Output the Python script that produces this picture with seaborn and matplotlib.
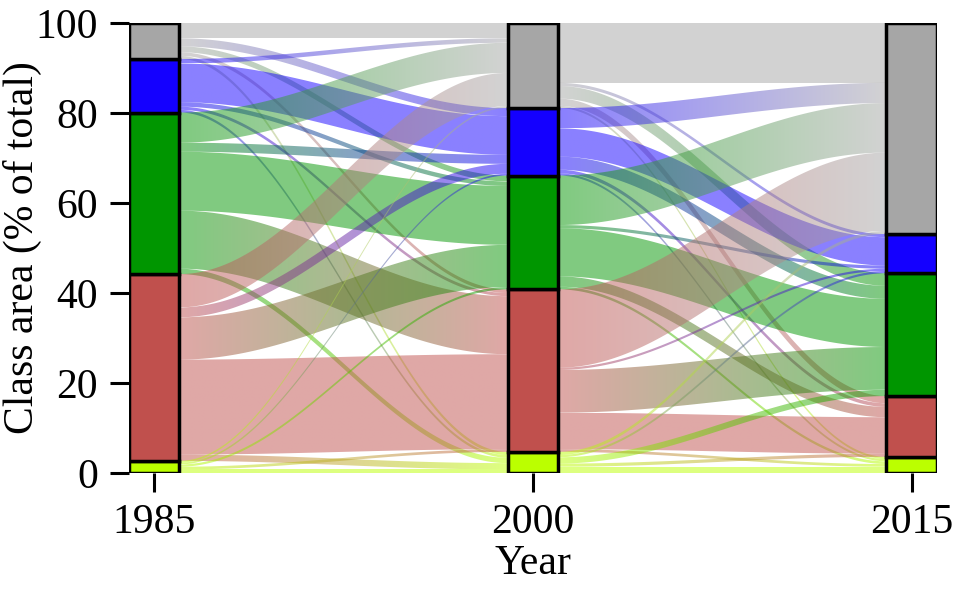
import numpy as np
import matplotlib
matplotlib.use('Agg')
import matplotlib.pyplot as plt
from matplotlib.path import Path
from matplotlib.patches import PathPatch
from matplotlib.colors import to_rgb
import seaborn as sns

# classes, bottom of the stack first
classes = ['Crop', 'Red', 'Forest', 'Water', 'Other']
class_colors = ['#bbff00', '#c0504d', '#009600', '#1400ff', '#a6a6a6']
years = [1985, 2000, 2015]

# flows 1985 -> 2000 (rows: source class, cols: target class), % of total
flows_85_00 = [
    [0.8, 0.6, 0.5, 0.4, 0.4],
    [1.4, 21.1, 9.4, 2.2, 7.4],
    [1.2, 12.9, 13.1, 2.0, 6.7],
    [0.6, 0.7, 1.0, 8.6, 1.0],
    [0.7, 0.8, 1.3, 1.8, 3.4],
]
# flows 2000 -> 2015
flows_00_15 = [
    [1.4, 0.7, 1.4, 0.5, 0.7],
    [0.6, 8.1, 9.5, 0.5, 17.4],
    [0.6, 2.3, 10.7, 0.7, 11.0],
    [0.5, 0.8, 2.9, 6.3, 4.5],
    [0.5, 1.6, 2.8, 0.7, 13.3],
]

half_w = 1.0
n = len(classes)

sns.set_style('ticks')
plt.rcParams['font.family'] = ['Liberation Serif', 'DejaVu Serif']
plt.rcParams['text.color'] = 'black'
plt.rcParams['axes.labelcolor'] = 'black'
plt.rcParams['xtick.color'] = 'black'
plt.rcParams['ytick.color'] = 'black'

fig = plt.figure(figsize=(9.54, 5.89), dpi=100)
ax = fig.add_axes([0.1349, 0.1969, 0.8473, 0.7641])

periods = [np.array(flows_85_00), np.array(flows_00_15)]
# node sizes for each year
node_vals = [periods[0].sum(axis=1), periods[0].sum(axis=0), periods[1].sum(axis=0)]


def draw_flow(x0, x1, s_top, s_bot, t_top, t_bot, c0, c1):
    xs = np.linspace(x0, x1, 100)
    w = (1 - np.cos(np.pi * (xs - x0) / (x1 - x0))) / 2
    top = s_top + (t_top - s_top) * w
    bot = s_bot + (t_bot - s_bot) * w
    verts = np.concatenate([np.c_[xs, top], np.c_[xs[::-1], bot[::-1]], [[xs[0], top[0]]]])
    codes = [Path.MOVETO] + [Path.LINETO] * (len(verts) - 2) + [Path.CLOSEPOLY]
    patch = PathPatch(Path(verts, codes), facecolor='none', edgecolor='none')
    ax.add_patch(patch)
    # horizontal colour gradient from source class to target class
    grad = np.linspace(0, 1, 128)[None, :, None]
    rgb = np.array(to_rgb(c0))[None, None, :] * (1 - grad) + np.array(to_rgb(c1))[None, None, :] * grad
    img = ax.imshow(rgb, extent=[x0, x1, bot.min(), top.max()],
                    aspect='auto', alpha=0.5, origin='lower', interpolation='bilinear', zorder=1)
    img.set_clip_path(patch)


for p, flows in enumerate(periods):
    x0 = years[p] + half_w
    x1 = years[p + 1] - half_w
    src_tops = np.cumsum(node_vals[p])
    tgt_tops = np.cumsum(node_vals[p + 1])
    out_pos = src_tops.copy()
    for i in range(n - 1, -1, -1):
        for j in range(n - 1, -1, -1):
            f = flows[i, j]
            s_top = out_pos[i]
            out_pos[i] -= f
            # incoming order at the target: sources from the top class down
            t_top = tgt_tops[j] - flows[i + 1:, j].sum()
            draw_flow(x0, x1, s_top, s_top - f, t_top, t_top - f,
                      class_colors[i], class_colors[j])

# stacked bars
for k, yr in enumerate(years):
    bottom = 0.0
    for i in range(n):
        ax.bar(yr, node_vals[k][i], bottom=bottom, width=2 * half_w,
               color=class_colors[i], edgecolor='black', linewidth=2.5, zorder=3)
        bottom += node_vals[k][i]

ax.set_xlim(years[0] - half_w, years[-1] + half_w)
ax.set_ylim(0, 100)
ax.set_xticks(years)
ax.set_yticks([0, 20, 40, 60, 80, 100])
ax.tick_params(direction='out', length=14, width=2.2, labelsize=30, pad=8, colors='black')
ax.set_xlabel('Year', fontsize=30, labelpad=2)
ax.set_ylabel('Class area (% of total)', fontsize=30)
ax.yaxis.set_label_coords(-0.107, 0.5)
sns.despine(ax=ax, left=True, bottom=True)

fig.savefig('out.png', dpi=100)
